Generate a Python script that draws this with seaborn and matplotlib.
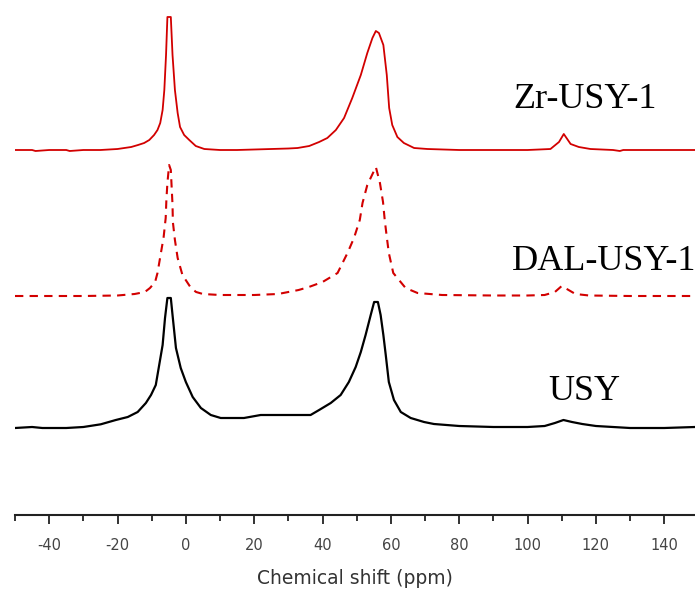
import matplotlib
matplotlib.use("Agg")
import matplotlib.pyplot as plt
import seaborn as sns
import pandas as pd
from matplotlib.ticker import MultipleLocator

# ---------------- data ----------------
sample_names = ["Zr-USY-1", "DAL-USY-1", "USY"]

zr_ppm = [-50, -45, -44, -40, -35, -34, -30, -25, -20, -16, -14, -12.2, -10.7, -9.3,
          -8.3, -7.5, -6.8, -6.3, -5.8, -5.4, -4.4, -3.9, -3.2, -2.4, -1.7, -0.5,
          1.0, 2.9, 5.4, 10, 15, 20, 25, 30, 32.7, 36.1, 39.0, 41.4, 43.9, 46.3,
          48.7, 51.2, 53.1, 54.6, 55.6, 56.5, 57.8, 58.8, 59.5, 60.4, 61.9, 63.8,
          66.8, 70.7, 80, 90, 100, 106.7, 109.2, 110.6, 112.6, 115.0, 118.4, 125,
          127, 128, 135, 149]
zr_int = [0, 0, -1, 0, 0, -1, 0, 0, 1, 3, 5, 7, 10, 15,
          20, 27, 40, 60, 95, 133, 133, 95, 60, 37, 23, 15,
          10, 4, 1, 0, 0, 0.5, 1, 1.5, 2, 4, 8, 12, 20, 32,
          52, 75, 97, 112, 119, 117, 105, 75, 42, 25, 13, 7,
          2, 1, 0, 0, 0, 1, 8, 16, 6, 3, 1, 0,
          -1, 0, 0, 0]

dal_ppm = [-50, -40, -30, -20, -15, -12, -10.5, -9.0, -8.3, -7.3, -6.5, -5.9, -5.7,
           -5.4, -4.9, -4.4, -3.9, -3.8, -3.2, -2.4, -1.0, 1.5, 3, 5, 10, 20, 27,
           30, 33, 36, 40, 44.4, 47.3, 49.2, 50.9, 51.7, 53.1, 55.6, 56.8, 57.7,
           58.2, 58.8, 59.4, 60.7, 64.3, 67.8, 75, 90, 100, 105, 108, 110, 112,
           114, 118, 130, 149]
dal_int = [0, 0, 0, 0.5, 2, 4, 8, 14, 23, 43, 59, 78, 96,
           113, 131, 126, 91, 74, 56, 38, 21, 8, 4, 2, 1, 1, 2,
           4, 6, 9, 14, 23, 43, 58, 76, 93, 111, 129, 113, 94,
           76, 59, 43, 23, 8, 3, 1, 0.5, 0.5, 1, 4, 10, 6,
           2, 0.5, 0, 0]

usy_ppm = [-50, -45, -42, -35, -30, -24.9, -20.5, -17.0, -14.1, -11.7, -10.2, -8.8,
           -7.8, -6.8, -6.1, -5.4, -4.4, -3.9, -2.9, -1.5, 0, 2.0, 4.4, 7.3, 10.2,
           17, 21.9, 36.5, 39.0, 42.4, 45.3, 47.7, 49.7, 51.2, 52.6, 54.1, 55.1,
           56.2, 57.0, 57.8, 58.5, 59.4, 60.9, 62.9, 65.8, 69.7, 72.6, 80, 90,
           100, 105, 108, 110.5, 113, 116, 120, 125, 130, 140, 149]
usy_int = [0, 1, 0, 0, 1, 3.7, 8, 11, 16, 25, 33, 43,
           63, 83, 110, 130, 130, 113, 80, 60, 46, 31, 20, 13, 10,
           10, 13, 13, 18, 25, 33, 46, 61, 76, 93, 113, 126,
           126, 113, 93, 73, 46, 28, 16, 10, 6, 4, 2, 1,
           1, 2, 5, 8, 6, 4, 2, 1, 0, 0, 1]

tick_values = [-40, -20, 0, 20, 40, 60, 80, 100, 120, 140]
x_label = "Chemical shift (ppm)"

# ---------------- layout / style ----------------
baselines = [365, 219, 87]
colors = ["#d20000", "#d20000", "#000000"]
styles = ["-", (0, (4, 3)), "-"]
widths = [1.3, 1.5, 1.6]
label_pos = [(95.9, 415), (95.3, 253), (106.1, 123)]

sns.set_style("ticks")
plt.rcParams["font.family"] = ["DejaVu Sans"]

fig = plt.figure(figsize=(6.95, 5.9), dpi=100)
ax = fig.add_axes([15 / 695, 75 / 590, 680 / 695, 515 / 590])

series = [(zr_ppm, zr_int), (dal_ppm, dal_int), (usy_ppm, usy_int)]
for (xs, ys), base, c, ls, lw in zip(series, baselines, colors, styles, widths):
    df = pd.DataFrame({"ppm": xs, "y": [v + base for v in ys]})
    sns.lineplot(data=df, x="ppm", y="y", ax=ax, color=c, linewidth=lw,
                 estimator=None, sort=False)
    ax.lines[-1].set_linestyle(ls)

for name, (tx, ty) in zip(sample_names, label_pos):
    ax.text(tx, ty, name, fontsize=26, family=["Liberation Serif"],
            color="black", va="center", ha="left", clip_on=False)

ax.set_xlim(-50, 149)
ax.set_ylim(0, 515)
ax.set_xticks(tick_values)
ax.set_xticklabels([str(t) for t in tick_values])
ax.xaxis.set_minor_locator(MultipleLocator(10))
ax.set_yticks([])
ax.set_ylabel("")
sns.despine(ax=ax, left=True, top=True, right=True)
ax.spines["bottom"].set_linewidth(1.5)
ax.spines["bottom"].set_color("#222222")
ax.tick_params(axis="x", which="major", length=6.5, width=1.3, color="#222222",
               labelsize=10.5, labelcolor="#444444", pad=10)
ax.tick_params(axis="x", which="minor", length=4.3, width=1.3, color="#222222")
ax.set_xlabel(x_label, fontsize=13.5, color="#333333")
ax.xaxis.set_label_coords(0.5, -0.105)
ax.xaxis.label.set_va("top")

fig.savefig("out.png", dpi=100)
